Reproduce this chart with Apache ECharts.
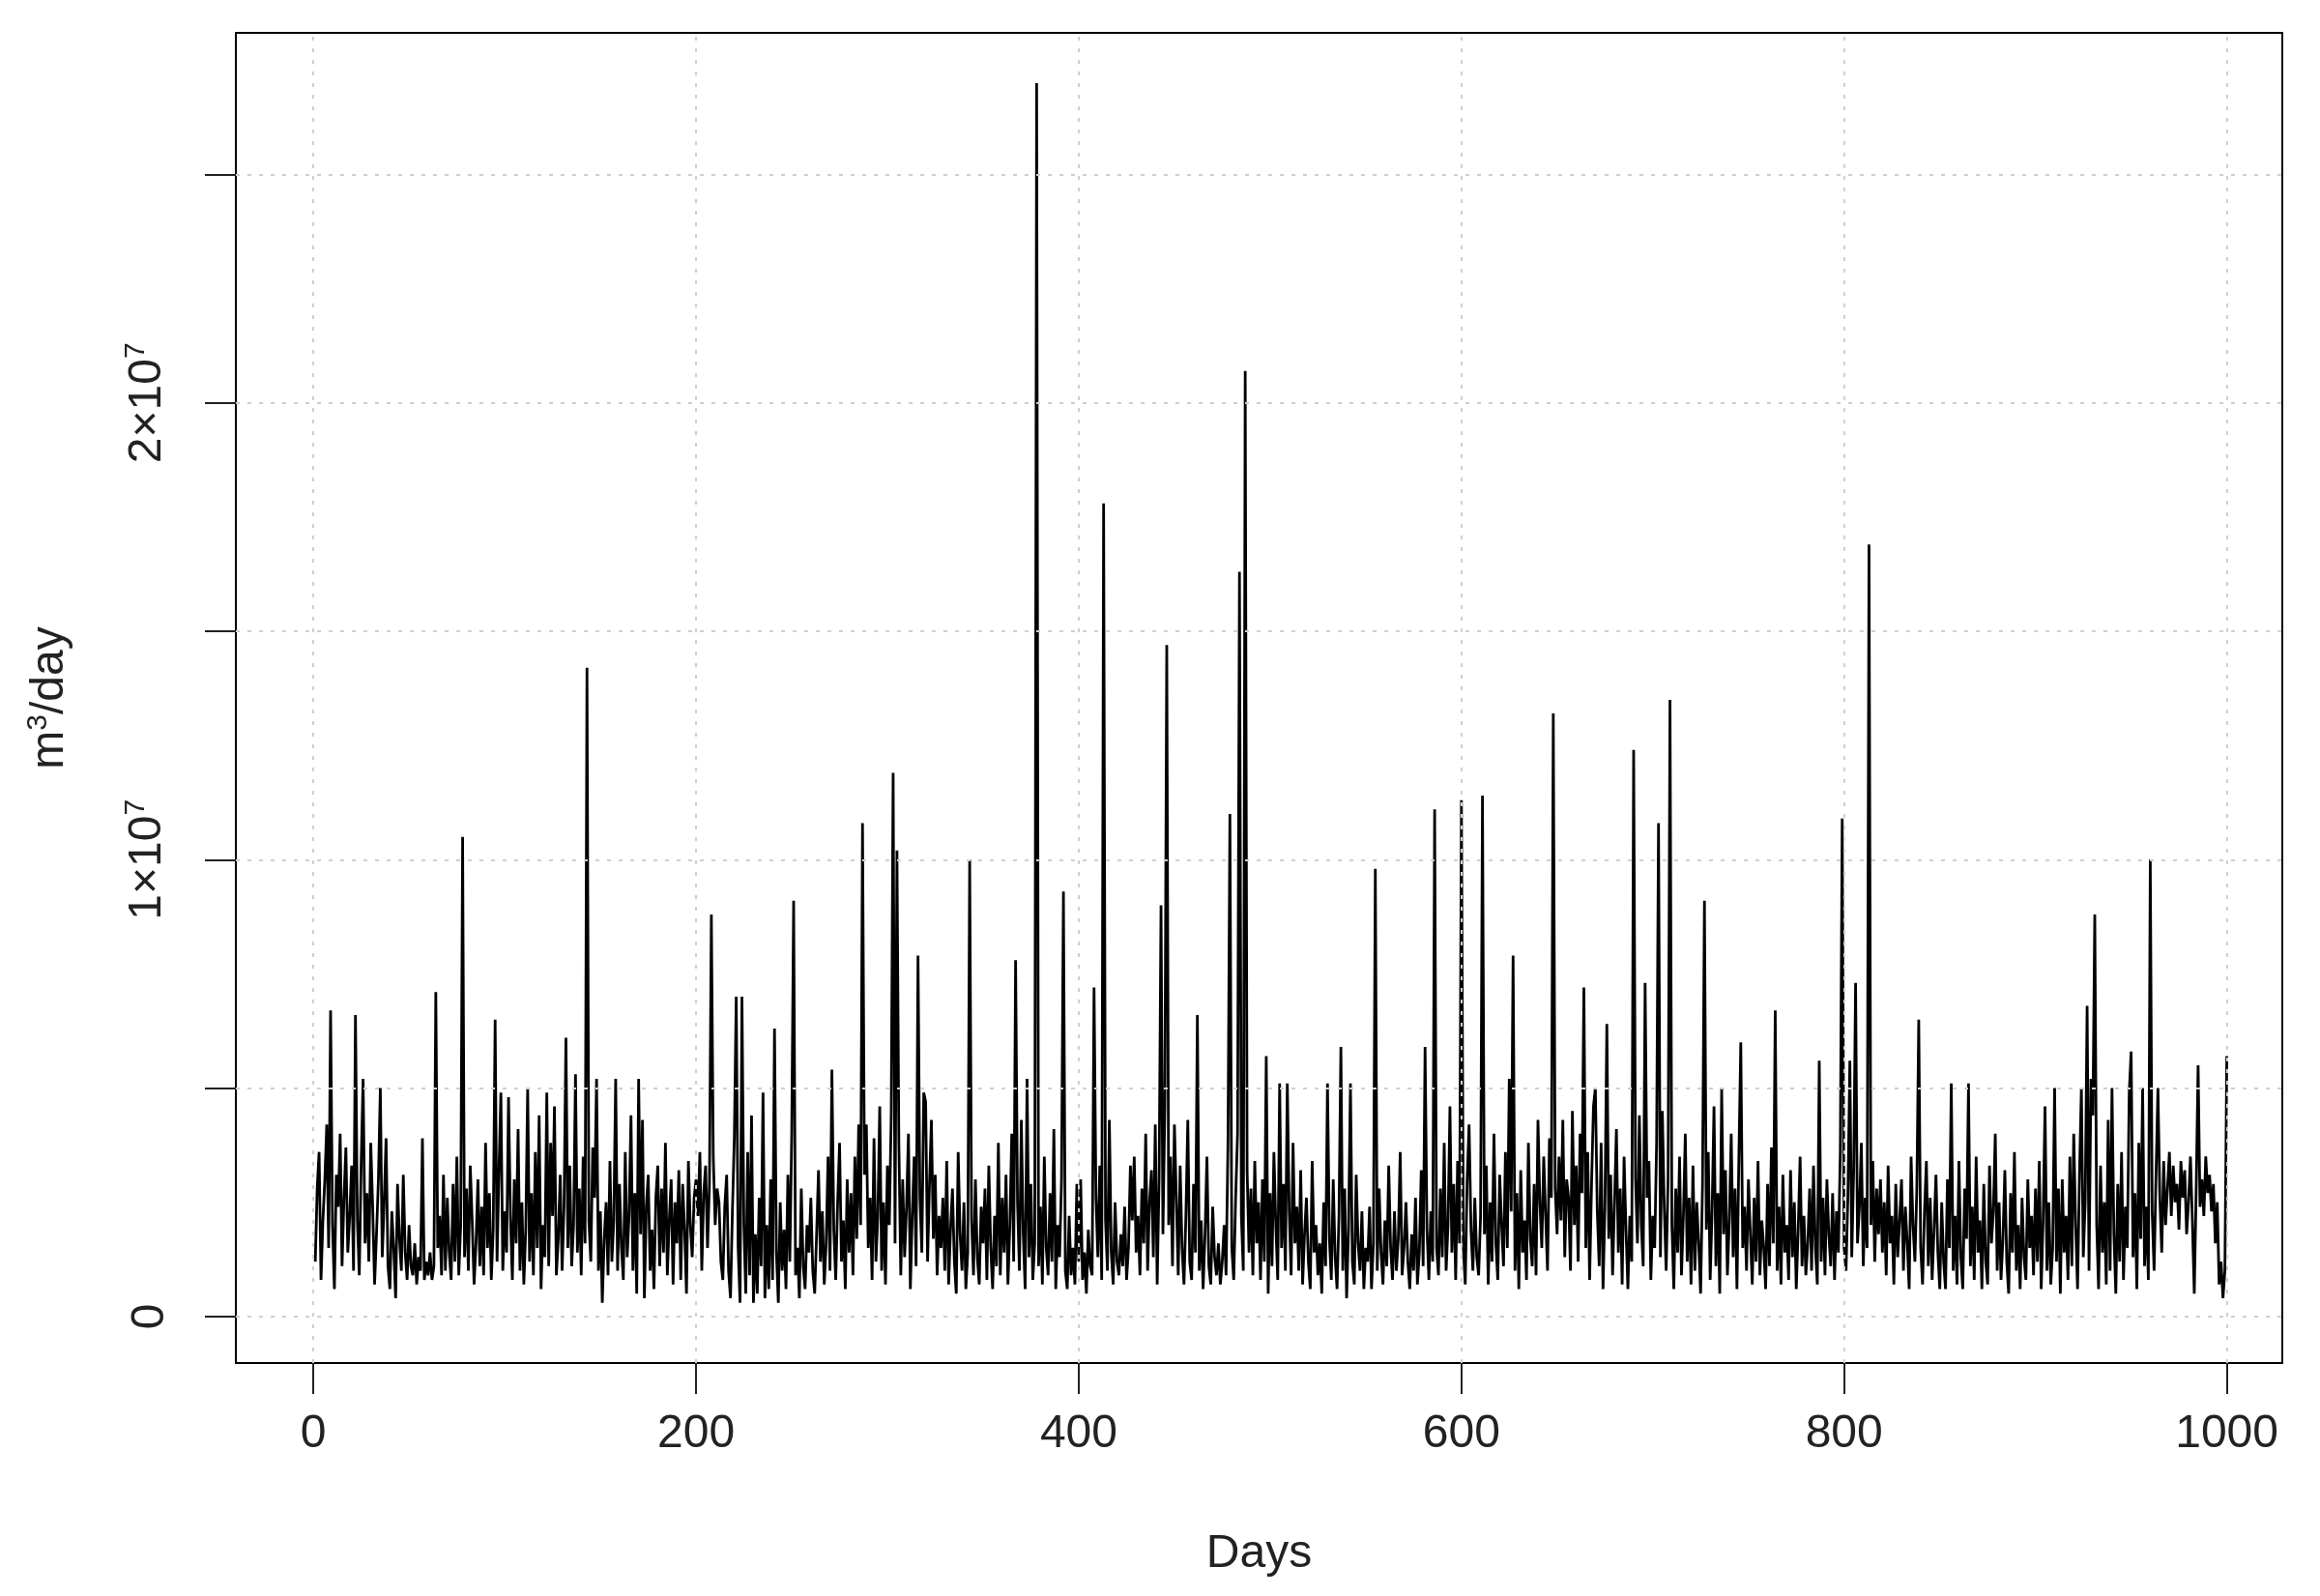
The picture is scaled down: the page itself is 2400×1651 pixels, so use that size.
<!DOCTYPE html>
<html><head><meta charset="utf-8">
<script src="https://cdn.jsdelivr.net/npm/echarts@6/dist/echarts.min.js"></script>
<style>html,body{margin:0;padding:0;background:#fff}#c{width:2400px;height:1651px}</style>
</head><body><div id="c"></div>
<script>
// daily flow, units of 1e6 m3/day, days 1..1000
const flowMillions = [
1.2,2.8,3.6,0.8,2.1,3.0,4.2,1.5,6.7,2.0,0.6,3.1,2.4,4.0,1.1,2.6,3.7,1.4,2.2,3.3,1.0,6.6,2.1,0.9,3.4,5.2,1.6,2.7,1.2,3.8,2.4,0.7,1.8,3.0,5.0,1.3,2.5,3.9,1.1,0.6,2.3,1.5,0.4,2.9,1.7,1.0,3.1,1.4,0.8,2.0,
1.1,0.9,1.6,0.7,1.3,1.0,3.9,0.8,1.2,0.9,1.4,0.8,1.1,7.1,1.5,2.2,0.9,3.1,1.0,2.6,1.4,0.8,2.9,1.2,3.5,0.9,2.0,10.5,1.3,2.8,1.0,3.3,2.1,0.7,1.6,3.0,1.1,2.4,0.9,3.8,1.5,2.7,0.8,1.9,6.5,1.2,3.2,4.9,1.0,2.3,
1.4,4.8,2.2,0.8,3.0,1.6,4.1,1.0,2.5,0.7,1.9,5.0,1.2,2.7,0.9,3.6,1.5,4.4,0.6,2.0,1.3,4.9,1.1,3.8,2.2,4.6,0.9,1.7,3.1,1.0,2.4,6.1,1.5,3.3,1.1,2.0,5.3,1.4,2.8,0.9,3.5,1.6,14.2,2.1,1.2,3.7,2.6,5.2,1.0,2.3,
0.3,1.7,2.5,0.9,3.4,1.2,2.1,5.2,1.0,2.9,1.5,0.8,3.6,1.3,2.2,4.4,1.0,2.7,0.5,5.2,1.8,4.3,0.4,2.4,3.1,1.0,1.9,0.6,2.6,3.3,1.1,2.8,1.4,3.8,0.9,2.1,3.0,0.7,2.5,1.6,3.2,0.8,2.9,1.9,0.5,3.4,2.0,1.3,2.6,3.0,
2.2,3.6,1.0,2.7,3.3,1.5,2.9,8.8,3.5,2.0,2.8,2.5,1.2,0.8,2.4,3.1,1.0,0.4,2.3,3.9,7.0,1.5,0.3,7.0,2.0,0.5,3.6,0.9,4.4,0.3,1.8,0.5,2.6,1.1,4.9,0.4,2.0,0.6,3.0,0.8,6.3,1.4,0.3,2.5,1.0,1.9,0.6,3.1,1.2,4.0,
9.1,0.9,1.5,0.4,2.8,1.1,0.6,2.0,1.4,2.6,1.0,0.5,1.8,3.2,1.2,2.3,0.7,1.6,3.5,1.0,5.4,1.9,0.8,2.5,3.8,1.2,2.1,0.6,3.0,1.4,2.7,0.9,3.5,1.7,4.2,2.0,10.8,3.1,4.2,1.5,2.6,0.8,3.9,1.2,2.2,4.6,1.0,2.5,0.7,3.3,
2.0,4.4,11.9,1.6,10.2,3.8,0.9,3.0,1.3,2.4,4.0,0.6,2.2,3.5,1.1,7.9,2.6,1.4,4.9,4.7,1.2,2.9,4.3,1.7,3.1,0.9,2.2,1.5,2.6,1.0,3.4,0.7,1.9,2.8,1.2,0.5,3.6,1.8,1.0,2.5,0.6,1.4,10.0,2.1,0.9,3.0,1.3,0.7,2.4,1.6,
2.8,0.8,3.3,1.5,0.6,2.2,1.1,3.8,0.9,2.6,1.4,3.1,0.7,2.0,4.0,1.2,7.8,2.5,1.0,4.3,1.8,0.6,5.2,1.3,2.9,0.8,1.6,27.0,1.1,2.4,0.7,3.5,1.5,0.9,2.7,1.2,4.1,0.6,2.0,1.3,3.0,9.3,1.0,0.6,2.2,0.9,1.5,0.7,2.9,1.2,
3.0,0.8,1.4,0.5,1.9,1.1,0.9,7.2,2.6,1.3,3.3,0.8,17.8,2.1,1.0,4.3,1.4,0.7,2.5,1.2,0.9,1.8,1.1,2.4,0.8,1.5,3.3,2.1,3.5,1.4,2.2,0.9,2.8,1.6,4.0,1.0,2.5,3.2,1.3,4.2,0.7,3.0,9.0,1.8,4.6,14.7,2.0,3.5,1.1,4.2,
2.6,0.9,3.3,1.5,0.7,2.2,4.3,1.2,0.8,2.9,1.4,6.6,1.0,2.1,0.6,1.8,3.5,1.1,0.7,2.4,1.3,0.9,1.6,0.7,1.2,2.0,0.9,3.8,11.0,1.5,0.8,2.6,4.0,16.3,2.2,1.0,20.7,3.2,1.4,2.8,0.9,3.4,1.6,2.5,0.8,3.0,1.2,5.7,0.5,2.7,
1.1,3.6,2.0,0.8,5.1,1.5,2.9,1.0,5.1,2.3,0.9,3.8,1.6,2.4,1.0,3.2,0.7,1.8,2.6,1.2,0.6,3.4,1.4,2.0,0.9,1.6,0.5,2.5,1.1,5.1,1.7,0.8,3.0,1.3,0.6,2.2,5.9,1.0,2.8,0.4,1.9,5.1,1.2,0.7,3.1,1.6,1.0,2.3,0.6,1.5,
1.2,2.4,0.6,1.6,9.8,1.0,2.8,1.4,0.7,2.1,1.1,3.3,1.5,0.8,2.3,1.0,1.7,3.6,0.9,1.5,2.5,1.2,0.6,1.8,1.0,2.6,0.7,1.4,3.2,1.1,5.9,1.9,0.8,2.3,1.2,11.1,1.5,0.9,2.8,1.3,3.8,1.0,2.0,4.6,1.4,2.9,0.8,3.4,1.6,11.3,
1.5,0.7,3.0,4.2,1.9,1.0,2.6,1.3,0.9,2.2,11.4,1.8,3.3,0.7,2.5,1.2,4.0,1.6,0.8,3.1,2.0,1.1,3.6,1.5,5.2,2.3,7.9,1.0,2.7,0.6,3.2,1.4,2.1,0.8,3.8,1.7,1.1,2.9,0.9,4.3,2.5,1.5,3.5,2.2,1.0,3.9,2.6,13.2,2.8,1.8,
3.5,2.1,4.3,1.3,3.0,2.6,1.0,4.5,2.0,3.3,1.2,4.0,2.7,7.2,1.5,3.6,0.8,2.9,4.6,5.0,2.3,1.1,3.8,0.6,2.4,6.4,1.7,3.1,0.9,2.5,4.1,1.4,2.8,0.7,3.5,1.9,0.6,2.2,1.2,12.4,3.0,1.6,4.4,2.0,1.1,7.3,2.6,3.4,0.8,2.2,
1.5,3.8,10.8,1.3,4.5,2.4,1.0,3.0,13.5,2.0,0.6,2.8,1.4,3.5,0.9,2.2,4.0,1.2,2.6,0.7,3.3,1.0,2.5,1.6,0.5,2.9,9.1,1.9,3.6,0.8,2.3,4.6,1.1,2.7,0.5,5.0,1.8,3.2,0.9,2.1,4.0,1.3,2.8,0.6,3.5,6.0,1.5,2.4,1.0,3.0,
1.8,0.7,2.6,1.2,3.4,0.9,2.1,1.5,0.6,2.9,1.1,3.7,1.6,6.7,1.0,2.4,0.7,3.1,1.4,2.0,0.8,3.2,1.3,2.5,0.6,1.9,3.5,1.1,2.2,0.9,1.6,2.8,1.0,3.3,1.5,0.7,5.6,1.2,2.6,0.9,3.0,1.8,1.1,2.7,0.8,2.3,1.4,3.6,10.9,1.5,
1.0,2.7,5.6,1.3,3.2,7.3,1.6,2.4,3.8,1.1,2.6,1.5,16.9,2.0,3.4,1.2,2.8,1.8,3.0,1.4,2.5,0.9,3.3,1.6,2.2,0.7,2.9,1.3,2.1,3.0,1.0,2.4,1.6,0.6,3.5,2.0,1.2,2.8,6.5,1.5,0.7,2.3,3.4,1.1,2.6,0.8,1.9,3.1,1.4,0.6,
2.5,1.2,0.6,3.0,1.5,5.1,1.0,2.2,0.7,3.4,1.3,0.6,2.8,1.7,5.1,1.1,2.4,0.8,3.5,1.4,2.1,0.6,2.9,1.2,0.7,3.3,1.6,2.3,4.0,1.0,2.5,0.8,1.7,3.2,1.2,0.5,2.7,1.4,3.6,1.0,2.0,0.6,2.6,1.3,0.8,3.0,1.5,2.2,0.9,2.8,
1.2,3.4,0.6,2.1,4.6,1.0,2.5,0.7,1.5,5.0,1.2,2.8,0.5,3.0,1.4,2.2,0.8,3.5,1.1,4.0,2.0,0.6,3.1,5.0,1.3,2.5,6.8,1.0,5.2,4.4,8.8,2.0,0.6,3.3,1.4,2.5,0.7,4.3,1.0,5.0,1.8,0.5,2.9,1.2,3.6,0.8,2.4,1.5,4.9,5.8,
1.3,2.7,0.6,3.8,1.7,5.0,1.1,2.4,0.8,10.0,2.3,1.0,3.1,5.0,2.6,1.4,3.4,2.0,2.8,3.6,2.2,3.3,2.5,2.9,1.9,3.4,2.6,3.2,1.8,2.5,3.5,2.1,0.5,2.8,5.5,2.4,3.0,2.2,3.5,2.7,3.1,2.3,2.9,1.6,2.5,0.7,1.2,0.4,1.0,5.7
];
const xTicks = [0,200,400,600,800,1000];
const yTicks = [0,5,10,15,20,25];           // millions
const yLabelTicks = [0,10,20];
const yLabelText = {0:'0',10:'1×10{s|7}',20:'2×10{s|7}'};

const pts = flowMillions.map((v,i)=>[i+1,v]);
const font = 'Liberation Sans, Arial, sans-serif';
const gridStyle = {color:'#cfcfcf',type:[4,8],width:2};
const sup = {fontSize:30,verticalAlign:'top',padding:[0,0,24,0],fontFamily:font,color:'#222'};
const chart = echarts.init(document.getElementById('c'));
chart.setOption({
  animation:false,
  grid:{left:244,right:39,top:34,bottom:241,show:true,borderColor:'#000',borderWidth:2,backgroundColor:'transparent'},
  xAxis:{type:'value',min:-40.5,max:1029,
    name:'Days',nameLocation:'middle',nameGap:174,nameTextStyle:{fontFamily:font,fontSize:48,color:'#222'},
    axisLine:{show:false,onZero:false},splitLine:{show:false},
    axisTick:{show:true,customValues:xTicks,length:32,lineStyle:{color:'#222',width:2}},
    axisLabel:{customValues:xTicks,fontFamily:font,fontSize:48,color:'#222',margin:50,formatter:v=>String(v)}},
  yAxis:{type:'value',min:-1.02,max:28.1,
    name:'m{s|3}/day',nameLocation:'middle',nameGap:165,
    nameTextStyle:{fontFamily:font,fontSize:48,color:'#222',rich:{s:sup}},
    axisLine:{show:false,onZero:false},splitLine:{show:false},
    axisTick:{show:true,customValues:yTicks,length:32,lineStyle:{color:'#222',width:2}},
    axisLabel:{customValues:yLabelTicks,rotate:90,fontFamily:font,fontSize:48,color:'#222',margin:64,
      formatter:v=>yLabelText[v]||'',rich:{s:sup}}},
  series:[{type:'line',data:pts,showSymbol:false,lineStyle:{color:'#000',width:2.8},
    markLine:{silent:true,symbol:'none',label:{show:false},lineStyle:gridStyle,animation:false,
      data:[...xTicks.map(x=>({xAxis:x})),...yTicks.map(y=>({yAxis:y}))]},
    z:3}]
});
</script></body></html>
